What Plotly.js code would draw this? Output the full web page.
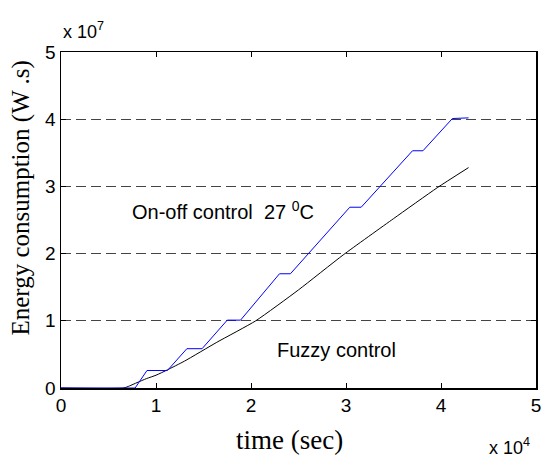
<!DOCTYPE html>
<html>
<head>
<meta charset="utf-8">
<script src="https://cdn.plot.ly/plotly-3.0.1.min.js"></script>
<style>
html,body{margin:0;padding:0;background:#fff;}
#chart{width:541px;height:461px;}
</style>
</head>
<body>
<div id="chart"></div>
<script>
// time in units of 1e4 s, energy in units of 1e7 W.s
var onoffTime = [0, 0.78, 0.905, 1.12, 1.325, 1.485, 1.75, 1.89, 2.30, 2.415, 3.04, 3.16, 3.70, 3.81, 4.12, 4.29];
var onoffEnergy = [0, 0, 0.26, 0.26, 0.585, 0.585, 1.01, 1.01, 1.70, 1.70, 2.69, 2.69, 3.53, 3.53, 4.01, 4.02];

var fuzzyTime = [0, 0.66, 0.72, 0.80, 0.90, 1.0, 1.12, 1.30, 1.64, 2.05, 2.5, 2.97, 3.5, 3.96, 4.29];
var fuzzyEnergy = [0, 0, 0.03, 0.08, 0.14, 0.19, 0.27, 0.40, 0.68, 1.0, 1.46, 1.98, 2.52, 2.98, 3.28];

var xTicks = [0, 1, 2, 3, 4, 5];
var yTicks = [0, 1, 2, 3, 4, 5];

var traces = [
  {x: fuzzyTime, y: fuzzyEnergy, type: 'scatter', mode: 'lines', name: 'Fuzzy control',
   line: {color: '#000000', width: 1, shape: 'spline', smoothing: 0.5}},
  {x: onoffTime, y: onoffEnergy, type: 'scatter', mode: 'lines', name: 'On-off control',
   line: {color: '#0000ff', width: 1}}
];

var sans = 'Liberation Sans, Arial, Helvetica, sans-serif';
var serif = 'Liberation Serif, Times New Roman, serif';

var layout = {
  width: 541, height: 461,
  margin: {l: 61, r: 5, t: 52, b: 73},
  paper_bgcolor: '#ffffff', plot_bgcolor: '#ffffff',
  showlegend: false,
  font: {family: sans, size: 19, color: '#000'},
  xaxis: {
    range: [0, 5], tickvals: xTicks, ticktext: xTicks.map(String),
    showline: true, linecolor: '#000', linewidth: 1.5, mirror: 'ticks',
    ticks: 'inside', ticklen: 5, tickwidth: 1, tickcolor: '#000',
    showgrid: false, zeroline: false, ticklabeloverflow: 'allow',
    tickfont: {family: sans, size: 19, color: '#000'}
  },
  yaxis: {
    range: [0, 5], tickvals: yTicks, ticktext: yTicks.map(String),
    showline: true, linecolor: '#000', linewidth: 1.5, mirror: 'ticks',
    ticks: 'inside', ticklen: 5, tickwidth: 1, tickcolor: '#000',
    showgrid: true, gridcolor: '#444444', gridwidth: 1, griddash: '10px,5px',
    zeroline: false, ticklabeloverflow: 'allow',
    tickfont: {family: sans, size: 19, color: '#000'}
  },
  annotations: [
    {xref: 'paper', yref: 'paper', x: 0.146, y: 0.528, xanchor: 'left', yanchor: 'middle',
     text: 'On-off control\u00a0\u00a027 <sup>0</sup>C', showarrow: false,
     font: {family: sans, size: 20, color: '#000'}},
    {xref: 'paper', yref: 'paper', x: 0.4506, y: 0.1125, xanchor: 'left', yanchor: 'middle',
     text: 'Fuzzy control', showarrow: false,
     font: {family: sans, size: 20, color: '#000'}},
    {xref: 'paper', yref: 'paper', x: -0.0833, y: 0.565, xanchor: 'center', yanchor: 'middle',
     text: 'Energy consumption (W .s)', textangle: -90, showarrow: false,
     font: {family: serif, size: 25, color: '#000'}},
    {xref: 'paper', yref: 'paper', x: 0.4815, y: -0.154, xanchor: 'center', yanchor: 'middle',
     text: 'time (sec)', showarrow: false,
     font: {family: serif, size: 27, color: '#000'}},
    {xref: 'paper', yref: 'paper', x: 0, y: 1.025, xanchor: 'left', yanchor: 'bottom',
     text: 'x 10<sup>7</sup>', showarrow: false,
     font: {family: sans, size: 18, color: '#000'}},
    {xref: 'paper', yref: 'paper', x: 0.897, y: -0.215, xanchor: 'left', yanchor: 'bottom',
     text: 'x 10<sup>4</sup>', showarrow: false,
     font: {family: sans, size: 18, color: '#000'}}
  ]
};

Plotly.newPlot('chart', traces, layout, {displayModeBar: false, staticPlot: true});
</script>
</body>
</html>
